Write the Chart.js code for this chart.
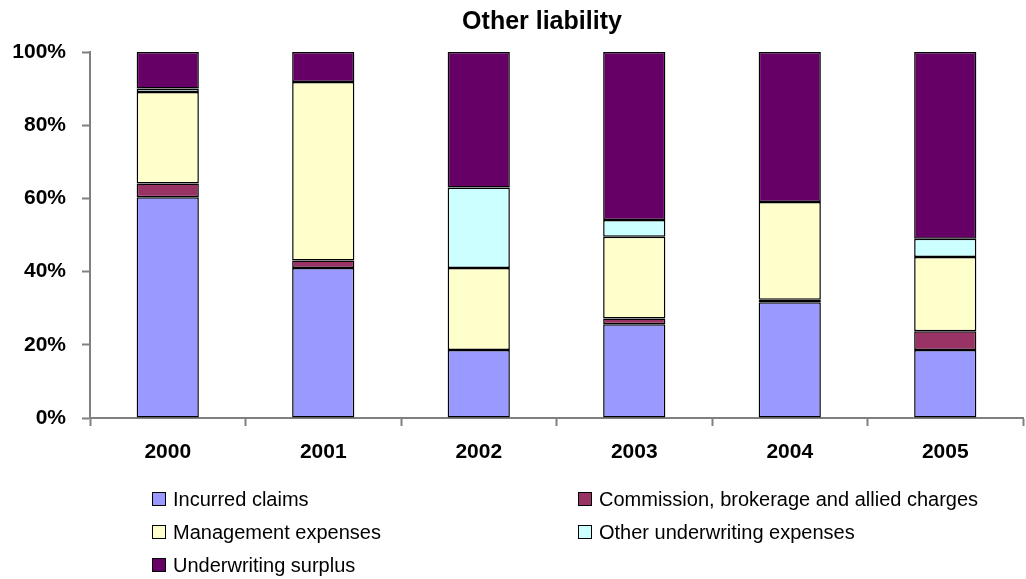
<!DOCTYPE html>
<html>
<head>
<meta charset="utf-8">
<script src="https://cdn.jsdelivr.net/npm/chart.js@4/dist/chart.umd.min.js"></script>
<style>
  html, body { margin: 0; padding: 0; background: #fff; }
  #wrap { position: relative; width: 1026px; height: 579px; }
  #chart { position: absolute; left: 0; top: 0; }
  #title { position: absolute; left: 442px; width: 200px; top: 5px; text-align: center;
           font-family: "Liberation Sans", Arial, sans-serif; font-size: 25px; font-weight: bold;
           line-height: 30px; color: #000; white-space: nowrap; }
  #legend { position: absolute; left: 0; top: 0; width: 1026px; height: 579px; pointer-events: none;
            font-family: "Liberation Sans", Arial, sans-serif; font-size: 20px; color: #000; }
  .item { position: absolute; height: 24px; line-height: 24px; white-space: nowrap; }
  .sw { position: absolute; left: 0; top: 5px; width: 12px; height: 12px; border: 1px solid #000; }
  .tx { position: absolute; left: 21px; top: 0; }
</style>
</head>
<body>
<div id="wrap">
  <canvas id="chart" width="1026" height="579"></canvas>
  <div id="title">Other liability</div>
  <div id="legend"></div>
</div>
<script>
// Years on the category axis
const years = ['2000', '2001', '2002', '2003', '2004', '2005'];

// Share of premium (%) by component
const incurredClaims   = [60.3, 41.0, 18.6, 25.6, 31.6, 18.6];
const commission       = [3.8, 2.0, 0.0, 1.6, 0.7, 5.1];
const managementExp    = [25.0, 48.8, 22.4, 22.3, 26.7, 20.3];
const otherUwExpenses  = [0.9, 0.0, 22.0, 4.6, 0.0, 5.0];
const uwSurplus        = [10.0, 8.2, 37.0, 45.9, 41.0, 51.0];

// Value axis ticks
const yTicks = [0, 20, 40, 60, 80, 100];

const seriesNames = ['Incurred claims', 'Commission, brokerage and allied charges',
                     'Management expenses', 'Other underwriting expenses', 'Underwriting surplus'];
const seriesColors = ['#9999FF', '#993366', '#FFFFCC', '#CCFFFF', '#660066'];
const seriesData = [incurredClaims, commission, managementExp, otherUwExpenses, uwSurplus];

const FONT = '"Liberation Sans", Arial, sans-serif';

const datasets = seriesData.map((d, i) => ({
  label: seriesNames[i],
  data: d,
  backgroundColor: seriesColors[i],
  borderColor: '#000000',
  borderWidth: 1.5,
  borderSkipped: false,
  categoryPercentage: 0.4,
  barPercentage: 1.0
}));

const chart = new Chart(document.getElementById('chart'), {
  type: 'bar',
  data: { labels: years, datasets },
  options: {
    responsive: false,
    animation: false,
    layout: { padding: { left: 0, right: 3, top: 52, bottom: 100 } },
    plugins: {
      legend: { display: false },
      tooltip: { enabled: false },
      title: { display: false }
    },
    scales: {
      x: {
        stacked: true,
        grid: { drawOnChartArea: false, drawTicks: true, tickLength: 8, tickColor: '#808080', tickWidth: 2, offset: true },
        border: { color: '#808080', width: 2 },
        ticks: { color: '#000', font: { family: FONT, size: 21, weight: 'bold' }, padding: 14, maxRotation: 0 },
        afterFit: s => { s.height = 61; }
      },
      y: {
        stacked: true,
        min: 0,
        max: 100,
        afterBuildTicks: s => { s.ticks = yTicks.map(v => ({ value: v })); },
        grid: { drawOnChartArea: false, drawTicks: true, tickLength: 8, tickColor: '#808080', tickWidth: 2 },
        border: { color: '#808080', width: 2 },
        ticks: {
          color: '#000',
          font: { family: FONT, size: 21, weight: 'bold' },
          padding: 16,
          callback: v => v + '%'
        },
        afterFit: s => { s.width = 90; }
      }
    }
  }
});

// Two-column legend below the plot, built from the datasets
const legend = document.getElementById('legend');
const colX = [152, 578];
const rowY = [487, 520, 553];
chart.data.datasets.forEach((ds, i) => {
  const item = document.createElement('div');
  item.className = 'item';
  item.style.left = colX[i % 2] + 'px';
  item.style.top = rowY[Math.floor(i / 2)] + 'px';
  const sw = document.createElement('span');
  sw.className = 'sw';
  sw.style.background = ds.backgroundColor;
  const tx = document.createElement('span');
  tx.className = 'tx';
  tx.textContent = ds.label;
  item.appendChild(sw);
  item.appendChild(tx);
  legend.appendChild(item);
});
</script>
</body>
</html>
